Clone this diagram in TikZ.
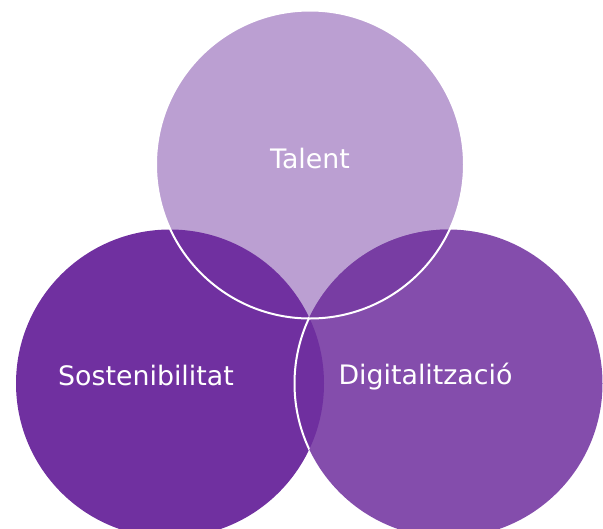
\documentclass[tikz,border=0pt]{standalone}
\usepackage{fontspec}
\setmainfont{DejaVu Sans}
\definecolor{ctop}{HTML}{BB9FD2}
\definecolor{cleft}{HTML}{7030A0}
\definecolor{cright}{HTML}{844DAC}
\definecolor{ctr}{HTML}{783DA3}
\definecolor{clr}{HTML}{6F2F9F}
\begin{document}
\begin{tikzpicture}[x=1pt,y=-1pt,
  lbl/.style={text=white, inner sep=0pt, anchor=base, font=\fontsize{26.8}{30}\selectfont},
  rim/.style={draw=white, line width=2pt}]
\useasboundingbox (0,0) rectangle (603,528);
\clip (0,0) rectangle (603,528);
\coordinate (T) at (310,164.5);
\coordinate (L) at (170,383.5);
\coordinate (R) at (448.5,383.5);
\fill[ctop] (T) circle[radius=154pt];
\fill[cleft] (L) circle[radius=154pt];
\fill[cright] (R) circle[radius=154pt];
\begin{scope}
  \clip (T) circle[radius=154pt];
  \fill[ctr] (R) circle[radius=154pt];
\end{scope}
\begin{scope}
  \clip (L) circle[radius=154pt];
  \fill[clr] (R) circle[radius=154pt];
  \draw[rim] (R) circle[radius=154pt];
\end{scope}
\draw[rim] (T) circle[radius=154pt];
\node[lbl] (talent) at (310,168) {Talent};
\node[lbl] (sost) at (146,385) {Sostenibilitat};
\node[lbl] (digi) at (425.5,384) {Digitalització};
\end{tikzpicture}
\end{document}
